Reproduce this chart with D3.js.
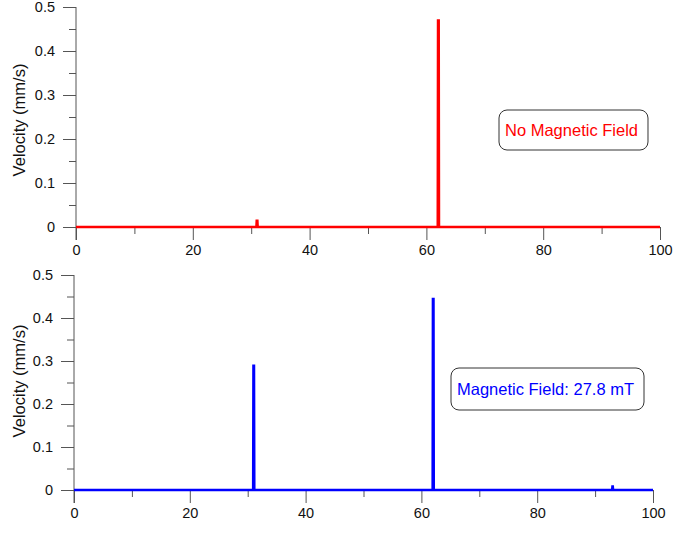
<!DOCTYPE html>
<html>
<head>
<meta charset="utf-8">
<script src="https://cdn.jsdelivr.net/npm/d3@7"></script>
<style>
  body { margin: 0; background: #fff; }
  svg { display: block; font-family: "Liberation Sans", Arial, sans-serif; }
</style>
</head>
<body>
<div id="wrapper"></div>
<script>
// time axis (s) and velocity (mm/s)
const topTime = [0, 30.9, 30.95, 31.05, 31.1, 61.95, 62.0, 62.1, 62.15, 100];
const topVelocity = [0, 0, 0.014, 0.014, 0, 0, 0.469, 0.469, 0, 0];

const bottomTime = [0, 30.95, 31.0, 31.08, 31.13, 61.95, 62.0, 62.08, 62.13, 92.95, 93.0, 93.05, 93.1, 100];
const bottomVelocity = [0, 0, 0.289, 0.289, 0, 0, 0.444, 0.444, 0, 0, 0.008, 0.008, 0, 0];

const xMajor = [0, 20, 40, 60, 80, 100];
const xMinor = [10, 30, 50, 70, 90];
const yMajor = [0, 0.1, 0.2, 0.3, 0.4, 0.5];
const yMinor = [0.05, 0.15, 0.25, 0.35, 0.45];

const yTitle = "Velocity (mm/s)";
const labels = ["No Magnetic Field", "Magnetic Field: 27.8 mT"];
const colors = ["#ff0000", "#0000ff"];

const width = 674, height = 535;
const axisColor = "#555";

const svg = d3.select("#wrapper")
  .append("svg")
  .attr("width", width)
  .attr("height", height);

const panels = [
  { time: topTime, vel: topVelocity, x: [76, 660], y: [227, 7], box: [499, 110, 40], titleY: 120 },
  { time: bottomTime, vel: bottomVelocity, x: [74, 653], y: [490, 275], box: [451, 368, 42], titleY: 381 },
];

panels.forEach((p, i) => {
  const xScale = d3.scaleLinear().domain([0, 100]).range(p.x);
  const yScale = d3.scaleLinear().domain([0, 0.5]).range(p.y);
  const g = svg.append("g");

  // y axis
  const yAxis = g.append("g")
    .attr("transform", `translate(${p.x[0]},0)`)
    .call(d3.axisLeft(yScale).tickValues(yMajor).tickSize(13).tickSizeOuter(0)
      .tickFormat(d => d === 0 ? "0" : d3.format(".1f")(d)).tickPadding(8));
  yAxis.select(".domain").remove();
  g.append("g")
    .attr("transform", `translate(${p.x[0]},0)`)
    .call(d3.axisLeft(yScale).tickValues(yMinor).tickSize(7).tickFormat(""))
    .select(".domain").remove();
  g.append("line")
    .attr("x1", p.x[0]).attr("x2", p.x[0])
    .attr("y1", yScale(0.5)).attr("y2", yScale(0) + 13)
    .attr("stroke", axisColor);

  // x axis
  const xAxis = g.append("g")
    .attr("transform", `translate(0,${p.y[0]})`)
    .call(d3.axisBottom(xScale).tickValues(xMajor).tickSize(13).tickSizeOuter(0).tickPadding(5));
  xAxis.select(".domain").attr("stroke", axisColor);
  g.append("g")
    .attr("transform", `translate(0,${p.y[0]})`)
    .call(d3.axisBottom(xScale).tickValues(xMinor).tickSize(7).tickFormat(""))
    .select(".domain").remove();

  g.selectAll(".tick line").attr("stroke", axisColor);
  g.selectAll(".tick text").attr("font-size", 14.5).attr("fill", "#111")
    .attr("font-family", "Liberation Sans, Arial, sans-serif");

  // y title
  g.append("text")
    .attr("transform", `translate(25,${p.titleY}) rotate(-90)`)
    .attr("text-anchor", "middle")
    .attr("font-size", 16.5)
    .attr("fill", "#111")
    .text(yTitle);

  // data
  const line = d3.line()
    .x((d, k) => xScale(p.time[k]))
    .y(d => yScale(d));
  g.append("path")
    .datum(p.vel)
    .attr("d", line)
    .attr("fill", "none")
    .attr("stroke", colors[i])
    .attr("stroke-width", 2.6);

  // annotation box
  const [bx, by, bh] = p.box;
  const box = g.append("rect")
    .attr("x", bx).attr("y", by)
    .attr("height", bh)
    .attr("rx", 8).attr("ry", 8)
    .attr("fill", "#fff")
    .attr("stroke", "#333")
    .attr("stroke-width", 1);
  const label = g.append("text")
    .attr("x", bx + 6)
    .attr("y", by + bh / 2 + 6)
    .attr("font-size", 16.5)
    .attr("fill", colors[i])
    .text(labels[i]);
  const tw = label.node().getComputedTextLength();
  box.attr("width", tw + 16);
});
</script>
</body>
</html>
